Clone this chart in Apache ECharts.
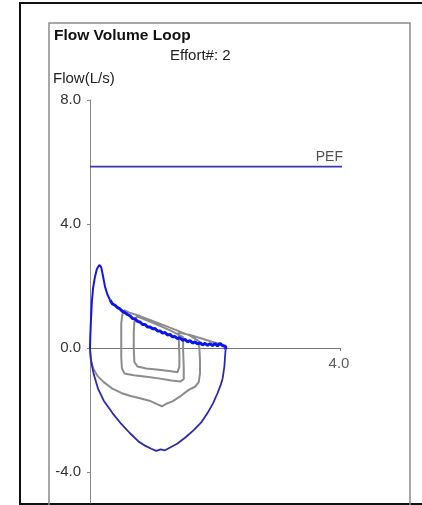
<!DOCTYPE html>
<html><head><meta charset="utf-8">
<script src="https://cdn.jsdelivr.net/npm/echarts@6/dist/echarts.min.js"></script>
<style>html,body{margin:0;padding:0;background:#fff}#c{width:422px;height:505px}</style>
</head><body><div id="c"></div>
<script>
// ---- data (volume L, flow L/s) ----
const yTicks = [8, 4, 0, -4];
const xTickLabels = [4];
const pefValue = 5.85;
const pefLine = [[0, 5.85], [4.04, 5.85]];

const blueUpper = [[0,0],[0.005,0.4],[0.015,0.9],[0.03,1.5],[0.05,1.95],[0.08,2.3],[0.11,2.55],[0.15,2.68],[0.18,2.6],[0.21,2.3],[0.24,1.98],[0.28,1.72],[0.32,1.55]];
const blueNoisy = [[0.32,1.55],[0.36,1.42],[0.4,1.38],[0.44,1.3],[0.48,1.26],[0.52,1.18],[0.56,1.14],[0.6,1.08],[0.64,1.04],[0.68,0.95],[0.72,0.94],[0.76,0.86],[0.8,0.84],[0.84,0.76],[0.88,0.76],[0.92,0.68],[0.96,0.68],[1.0,0.62],[1.04,0.63],[1.08,0.55],[1.12,0.55],[1.16,0.48],[1.2,0.5],[1.24,0.42],[1.28,0.44],[1.32,0.36],[1.36,0.37],[1.4,0.3],[1.44,0.33],[1.48,0.25],[1.52,0.28],[1.56,0.2],[1.6,0.24],[1.64,0.16],[1.68,0.2],[1.72,0.13],[1.76,0.17],[1.8,0.1],[1.84,0.15],[1.88,0.09],[1.92,0.14],[1.96,0.08],[2.0,0.14],[2.04,0.07],[2.08,0.15],[2.12,0.08],[2.15,0.14],[2.17,0.05],[2.17,-0.05]];
const blueLower = [[2.17,-0.05],[2.16,-0.3],[2.15,-0.6],[2.12,-1.0],[2.09,-1.2],[2.04,-1.46],[1.97,-1.78],[1.88,-2.1],[1.78,-2.4],[1.66,-2.65],[1.53,-2.88],[1.4,-3.08],[1.29,-3.2],[1.2,-3.3],[1.13,-3.27],[1.06,-3.32],[0.98,-3.25],[0.88,-3.15],[0.78,-3.02],[0.64,-2.75],[0.5,-2.45],[0.36,-2.1],[0.22,-1.7],[0.13,-1.32],[0.06,-0.85],[0.02,-0.45],[0.005,-0.15],[0,0]];

const greyTrace = [[0,-0.05],[0.01,-0.35],[0.05,-0.65],[0.12,-0.9],[0.22,-1.1],[0.35,-1.3],[0.5,-1.45],[0.65,-1.55],[0.8,-1.62],[0.95,-1.7],[1.08,-1.82],[1.15,-1.88],[1.22,-1.8],[1.32,-1.72],[1.45,-1.55],[1.58,-1.35],[1.68,-1.25],[1.74,-1.1],[1.76,-0.8],[1.76,-0.4],[1.75,0],[1.74,0.22],[1.6,0.4],[1.4,0.56],[1.2,0.72],[1.0,0.87],[0.8,1.03],[0.62,1.15],[0.55,1.22],[0.52,1.1],[0.5,0.8],[0.5,0.3],[0.5,-0.3],[0.51,-0.65],[0.55,-0.82],[0.7,-0.88],[0.9,-0.93],[1.1,-0.98],[1.3,-1.05],[1.45,-1.08],[1.5,-1.0],[1.5,-0.6],[1.49,-0.1],[1.49,0.35],[1.3,0.55],[1.1,0.73],[0.9,0.9],[0.75,1.02],[0.71,0.85],[0.7,0.5],[0.7,0],[0.71,-0.45],[0.76,-0.6],[0.9,-0.66],[1.1,-0.7],[1.3,-0.75],[1.4,-0.78],[1.43,-0.6],[1.43,-0.2],[1.42,0.3],[1.42,0.5],[1.6,0.42],[1.8,0.3],[1.95,0.2],[2.05,0.15]];

const FONT = '"Liberation Sans", Arial, sans-serif';
const chart = echarts.init(document.getElementById('c'), null, {renderer: 'canvas'});
chart.setOption({
  animation: false,
  backgroundColor: '#fff',
  graphic: [
    {type: 'rect', shape: {x: 20, y: 3, width: 420, height: 501}, style: {fill: 'none', stroke: '#111', lineWidth: 2}, silent: true, z: 0},
    {type: 'rect', shape: {x: 49, y: 23, width: 361, height: 500}, style: {fill: 'none', stroke: '#8a8a8a', lineWidth: 1.5}, silent: true, z: 0},
    {type: 'text', left: 54, top: 28, style: {text: 'Flow Volume Loop', font: 'bold 15.5px ' + FONT, fill: '#111'}},
    {type: 'text', left: 170, top: 48, style: {text: 'Effort#: 2', font: '15px ' + FONT, fill: '#222'}},
    {type: 'text', left: 53, top: 71, style: {text: 'Flow(L/s)', font: '15px ' + FONT, fill: '#222'}}
  ],
  grid: {left: 90, top: 100, width: 250, height: 403, outerBoundsMode: 'none', containLabel: false},
  xAxis: {
    type: 'value', min: 0, max: 4,
    axisLine: {show: true, onZero: true, lineStyle: {color: '#777', width: 1}},
    axisTick: {show: true, length: 3, customValues: xTickLabels, lineStyle: {color: '#777'}},
    axisLabel: {show: false},
    splitLine: {show: false}
  },
  yAxis: {
    type: 'value', min: -5, max: 8,
    axisLine: {show: true, onZero: false, lineStyle: {color: '#888', width: 1}},
    axisTick: {show: true, length: 3, customValues: yTicks, lineStyle: {color: '#888'}},
    axisLabel: {show: true, customValues: yTicks, margin: 9, color: '#333', fontSize: 15, fontFamily: FONT, formatter: v => v.toFixed(1)},
    splitLine: {show: false}
  },
  series: [
    {type: 'line', data: greyTrace, showSymbol: false, symbol: 'none', lineStyle: {color: '#8c8c8c', width: 2}, z: 2},
    {type: 'line', data: pefLine, showSymbol: false, symbol: 'none', clip: false, lineStyle: {color: '#3535b5', width: 1.8}, z: 3},
    {type: 'line', data: blueUpper, showSymbol: false, symbol: 'none', lineStyle: {color: '#1515e8', width: 2}, z: 4},
    {type: 'line', data: blueNoisy, showSymbol: false, symbol: 'none', lineStyle: {color: '#0a14f0', width: 3}, z: 4},
    {type: 'line', data: blueLower, showSymbol: false, symbol: 'none', lineStyle: {color: '#2a2ab0', width: 1.8}, z: 4},
    {type: 'scatter', data: [[4.0, pefValue]], symbolSize: 0, z: 5, clip: false,
      label: {show: true, formatter: 'PEF', position: 'top', align: 'right', offset: [3, 0], distance: 3, color: '#222', fontSize: 14, fontFamily: FONT}},
    {type: 'scatter', data: [[4.0, 0]], symbolSize: 0, z: 5, clip: false,
      label: {show: true, formatter: p => p.value[0].toFixed(1), position: 'bottom', distance: 8, offset: [-1, 0], color: '#333', fontSize: 15, fontFamily: FONT}}
  ]
});
</script></body></html>
